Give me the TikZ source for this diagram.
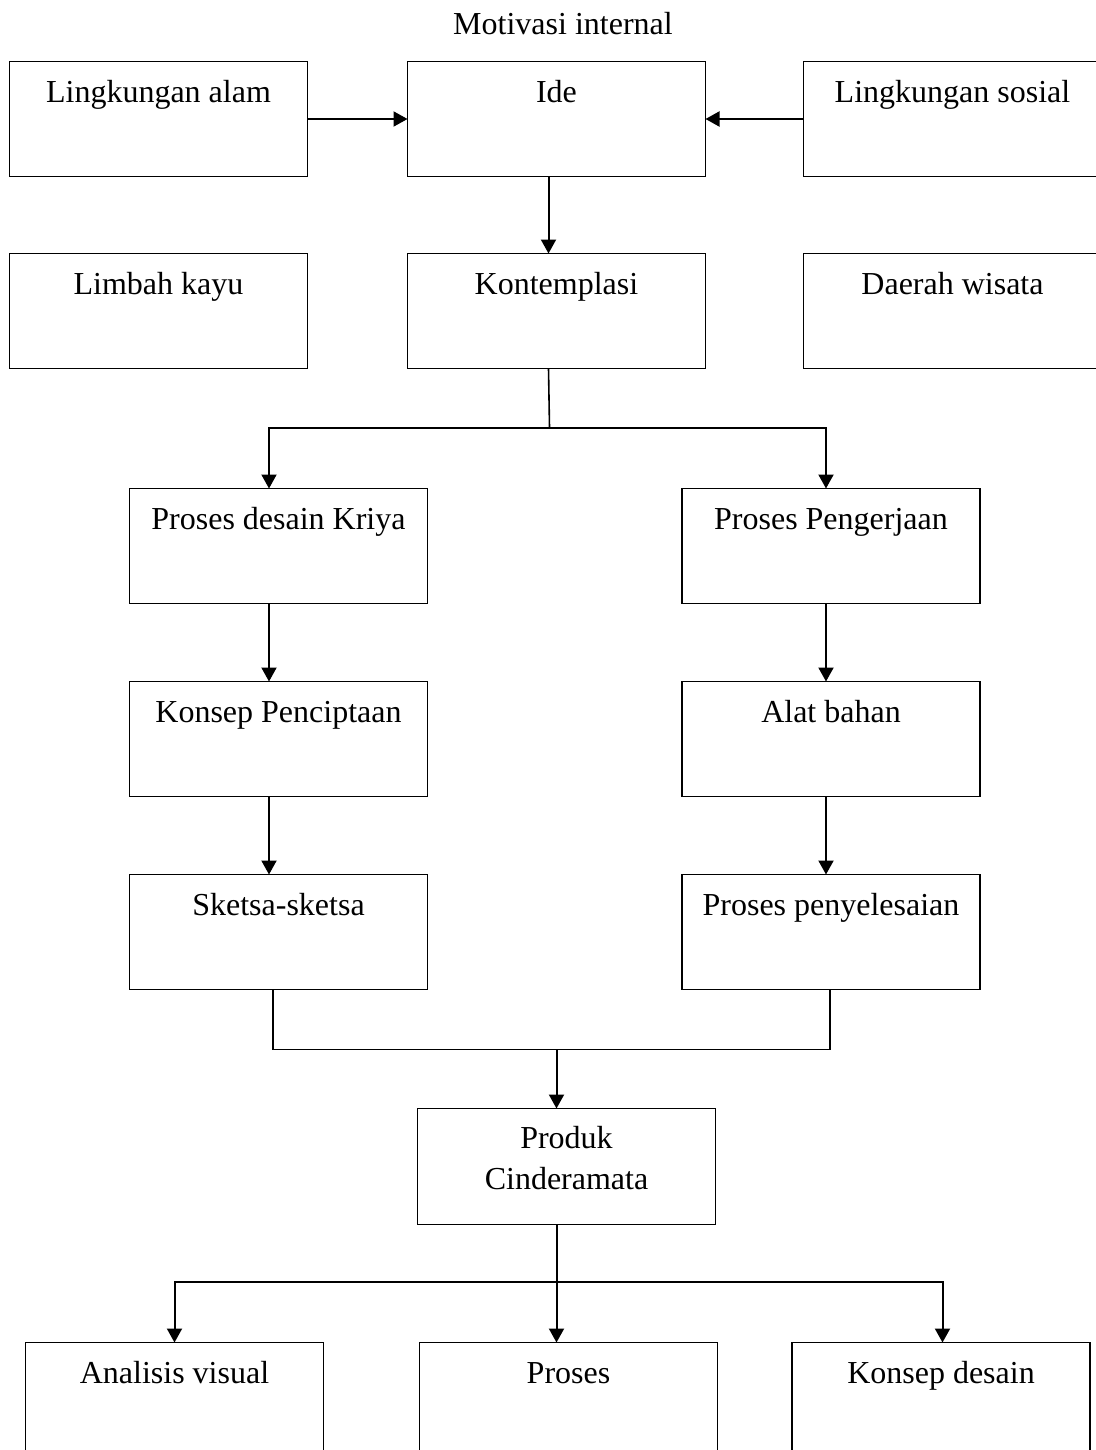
\documentclass[tikz,border=0pt]{standalone}
\usepackage{fontspec}
\setmainfont{Liberation Serif}
\usetikzlibrary{arrows.meta, positioning}

\begin{document}
\begin{tikzpicture}[
  every node/.style={font=\fontsize{16}{20.5}\selectfont},
  box/.style={rectangle, draw=black, line width=0.8pt, minimum width=149pt, outer sep=0pt,
    inner xsep=0pt, inner ysep=0pt, text height=20.5pt, text depth=37pt, align=center},
  arr/.style={-{Triangle[length=7pt, width=7.5pt]}, line width=1pt},
  link/.style={line width=0.8pt}
]
\useasboundingbox (0,0) rectangle (548pt,-725pt);

% ---- MOTIVASI ----
\node[box] (ide) at (278.25pt,-59.5pt) {Ide};
\node[anchor=base] (motiv) at ([xshift=3.25pt, yshift=13.5pt]ide.north) {Motivasi internal};
\node[box, left=50pt of ide] (alam) {Lingkungan alam};
\node[box, right=49pt of ide] (sosial) {Lingkungan sosial};
\node[box, below=38.5pt of ide] (kont) {Kontemplasi};
\node[box, below=38.5pt of alam] (limbah) {Limbah kayu};
\node[box, below=38.5pt of sosial] (wisata) {Daerah wisata};
\draw[arr] (alam) -- (ide);
\draw[arr] (sosial) -- (ide);
\draw[arr] ([xshift=-4pt]ide.south) -- ([xshift=-4pt]kont.north);

% ---- DESAIN DAN PENGERJAAN ----
\node[box, below=60pt of kont, xshift=-139pt] (desain) {Proses desain Kriya};
\node[box, below=60pt of kont, xshift=137.25pt] (penger) {Proses Pengerjaan};
\node[box, below=39pt of desain] (konsep) {Konsep Penciptaan};
\node[box, below=39pt of penger] (alat) {Alat bahan};
\node[box, below=39pt of konsep] (sketsa) {Sketsa-sketsa};
\node[box, below=39pt of alat] (penyel) {Proses penyelesaian};
\coordinate (cabang) at ([xshift=-3.5pt, yshift=-29.5pt]kont.south);
\draw[link] ([xshift=-4pt]kont.south) -- (cabang);
\draw[arr] (cabang) -| ([xshift=-4.75pt]desain.north);
\draw[arr] (cabang) -| ([xshift=-2.5pt]penger.north);
\draw[arr] ([xshift=-4.75pt]desain.south) -- ([xshift=-4.75pt]konsep.north);
\draw[arr] ([xshift=-4.75pt]konsep.south) -- ([xshift=-4.75pt]sketsa.north);
\draw[arr] ([xshift=-2.5pt]penger.south) -- ([xshift=-2.5pt]alat.north);
\draw[arr] ([xshift=-2.5pt]alat.south) -- ([xshift=-2.5pt]penyel.north);

% ---- PRODUK ----
\node[box, below=59.5pt of sketsa.south -| kont.south, xshift=5pt,
  text height=20pt, text depth=38pt] (produk)
  {\begin{tabular}[t]{@{}c@{}}Produk\\Cinderamata\end{tabular}};
\coordinate (gabung) at ([xshift=-5pt, yshift=29.5pt]produk.north);
\draw[link] ([xshift=-2.75pt]sketsa.south) |- (gabung) -| ([xshift=-0.5pt]penyel.south);
\draw[arr] (gabung) -- ([xshift=-5pt]produk.north);

% ---- ANALISIS ----
\node[box, below=59pt of produk, xshift=-196pt] (analisis) {Analisis visual};
\node[box, below=59pt of produk, xshift=1pt] (proses) {Proses};
\node[box, below=59pt of produk, xshift=187.25pt] (kdesain) {Konsep desain};
\coordinate (cabang2) at ([xshift=-5pt, yshift=-28.5pt]produk.south);
\draw[arr] ([xshift=-5pt]produk.south) -- ([xshift=-6pt]proses.north);
\draw[arr] (cabang2) -| (analisis.north);
\draw[arr] (cabang2) -| ([xshift=0.75pt]kdesain.north);
\end{tikzpicture}
\end{document}
